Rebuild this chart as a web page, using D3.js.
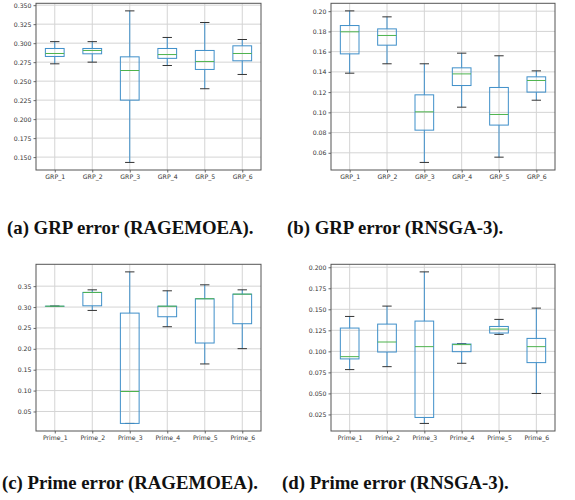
<!DOCTYPE html>
<html><head><meta charset="utf-8">
<script src="https://cdn.jsdelivr.net/npm/d3@7"></script>
<style>body{margin:0;background:#fff}svg{display:block}</style>
</head><body>
<svg id="c" width="575" height="500"></svg>
<script>
// ---- data ----
const grpCats = ["GRP_1","GRP_2","GRP_3","GRP_4","GRP_5","GRP_6"];
const primeCats = ["Prime_1","Prime_2","Prime_3","Prime_4","Prime_5","Prime_6"];

// (a) GRP error (RAGEMOEA)
const aLow  = [0.2728,0.275,0.143,0.2706,0.240,0.2588];
const aQ1   = [0.2825,0.286,0.225,0.280,0.2654,0.2768];
const aMed  = [0.2864,0.2904,0.264,0.285,0.2759,0.2864];
const aQ3   = [0.293,0.293,0.282,0.293,0.2904,0.2965];
const aHigh = [0.302,0.302,0.3425,0.3075,0.3272,0.3048];
const aTicks = [0.150,0.175,0.200,0.225,0.250,0.275,0.300,0.325,0.350];

// (b) GRP error (RNSGA-3)
const bLow  = [0.1387,0.148,0.0505,0.1051,0.0557,0.112];
const bQ1   = [0.1578,0.1664,0.0824,0.1265,0.0874,0.1200];
const bMed  = [0.1796,0.176,0.1005,0.138,0.0979,0.1315];
const bQ3   = [0.1858,0.1825,0.1173,0.144,0.1246,0.1351];
const bHigh = [0.2003,0.1944,0.148,0.1585,0.1559,0.141];
const bTicks = [0.06,0.08,0.10,0.12,0.14,0.16,0.18,0.20];

// (c) Prime error (RAGEMOEA)
const cLow  = [0.302,0.2919,0.0214,0.2529,0.1638,0.2004];
const cQ1   = [0.302,0.303,0.0214,0.2768,0.2139,0.2601];
const cMed  = [0.302,0.335,0.0978,0.302,0.3198,0.3309];
const cQ3   = [0.302,0.335,0.2855,0.302,0.3198,0.3309];
const cHigh = [0.302,0.3412,0.3842,0.3389,0.3532,0.3412];
const cTicks = [0.05,0.10,0.15,0.20,0.25,0.30,0.35];

// (d) Prime error (RNSGA-3)
const dLow  = [0.0783,0.0818,0.0143,0.0858,0.1202,0.0499];
const dQ1   = [0.0910,0.0992,0.0214,0.0996,0.1218,0.0866];
const dMed  = [0.0937,0.1111,0.1056,0.108,0.1265,0.1056];
const dQ3   = [0.1277,0.1324,0.136,0.1087,0.1296,0.1154];
const dHigh = [0.1415,0.1538,0.1945,0.1091,0.138,0.1514];
const dTicks = [0.025,0.050,0.075,0.100,0.125,0.150,0.175,0.200];

const captions = ["(a) GRP error (RAGEMOEA).","(b) GRP error (RNSGA-3).","(c) Prime error (RAGEMOEA).","(d) Prime error (RNSGA-3)."];

// ---- drawing ----
const svg = d3.select("#c");
const panels = [
  {cats:grpCats, low:aLow,q1:aQ1,med:aMed,q3:aQ3,high:aHigh,ticks:aTicks,fmt:".3f", x0:36, x1:261, y0:3.3, y1:170, cap:captions[0], cx:7, cy:234},
  {cats:grpCats, low:bLow,q1:bQ1,med:bMed,q3:bQ3,high:bHigh,ticks:bTicks,fmt:".2f", x0:331, x1:555, y0:3.3, y1:170, cap:captions[1], cx:287, cy:234},
  {cats:primeCats, low:cLow,q1:cQ1,med:cMed,q3:cQ3,high:cHigh,ticks:cTicks,fmt:".2f", x0:36, x1:261, y0:264.3, y1:431, cap:captions[2], cx:2, cy:489},
  {cats:primeCats, low:dLow,q1:dQ1,med:dMed,q3:dQ3,high:dHigh,ticks:dTicks,fmt:".3f", x0:331, x1:555, y0:264.3, y1:431, cap:captions[3], cx:282, cy:489}
];

const boxColor = "#3f8fc9", medColor = "#4db34d", capColor = "#333", gridColor = "#d4d4d4";

panels.forEach(p => {
  const g = svg.append("g");
  const mn = d3.min(p.low), mx = d3.max(p.high), pad = (mx - mn) * 0.05;
  const y = d3.scaleLinear().domain([mn - pad, mx + pad]).range([p.y1, p.y0]);
  const x = d3.scaleLinear().domain([0.5, p.cats.length + 0.5]).range([p.x0, p.x1]);
  const idx = p.cats.map((c,i)=>i);

  // grid
  g.selectAll(".gy").data(p.ticks).join("line")
    .attr("x1", p.x0).attr("x2", p.x1)
    .attr("y1", d=>y(d)).attr("y2", d=>y(d))
    .attr("stroke", gridColor).attr("stroke-width", 1);
  g.selectAll(".gx").data(idx).join("line")
    .attr("x1", i=>x(i+1)).attr("x2", i=>x(i+1))
    .attr("y1", p.y0).attr("y2", p.y1)
    .attr("stroke", gridColor).attr("stroke-width", 1);

  // axes
  const yAxis = d3.axisLeft(y).tickValues(p.ticks).tickFormat(d3.format(p.fmt)).tickSize(2.5).tickPadding(2);
  const ya = g.append("g").attr("transform", `translate(${p.x0},0)`).call(yAxis);
  const xAxis = d3.axisBottom(x).tickValues(idx.map(i=>i+1)).tickFormat(d=>p.cats[d-1]).tickSize(2.5).tickPadding(2);
  const xa = g.append("g").attr("transform", `translate(0,${p.y1})`).call(xAxis);
  [ya, xa].forEach(a => {
    a.select(".domain").remove();
    a.selectAll("line").attr("stroke", "#444").attr("stroke-width", 0.8);
    a.selectAll("text").attr("fill", "#333").style("font-family", "DejaVu Sans").style("font-size", "6.2px");
  });

  // whiskers
  const w = (x(1.25) - x(1)), cw = w / 2;
  g.selectAll(".wl").data(idx).join("line")
    .attr("x1", i=>x(i+1)).attr("x2", i=>x(i+1))
    .attr("y1", i=>y(p.low[i])).attr("y2", i=>y(p.q1[i]))
    .attr("stroke", boxColor).attr("stroke-width", 1);
  g.selectAll(".wh").data(idx).join("line")
    .attr("x1", i=>x(i+1)).attr("x2", i=>x(i+1))
    .attr("y1", i=>y(p.q3[i])).attr("y2", i=>y(p.high[i]))
    .attr("stroke", boxColor).attr("stroke-width", 1);
  // caps
  ["low","high"].forEach(k => {
    g.selectAll(".c"+k).data(idx).join("line")
      .attr("x1", i=>x(i+1)-cw).attr("x2", i=>x(i+1)+cw)
      .attr("y1", i=>y(p[k][i])).attr("y2", i=>y(p[k][i]))
      .attr("stroke", capColor).attr("stroke-width", 1);
  });
  // boxes
  g.selectAll(".bx").data(idx).join("rect")
    .attr("x", i=>x(i+1)-w).attr("width", 2*w)
    .attr("y", i=>y(p.q3[i])).attr("height", i=>Math.max(0.01, y(p.q1[i]) - y(p.q3[i])))
    .attr("fill", "none").attr("stroke", boxColor).attr("stroke-width", 1);
  // medians
  g.selectAll(".md").data(idx).join("line")
    .attr("x1", i=>x(i+1)-w).attr("x2", i=>x(i+1)+w)
    .attr("y1", i=>y(p.med[i])).attr("y2", i=>y(p.med[i]))
    .attr("stroke", medColor).attr("stroke-width", 1);

  // frame
  g.append("rect").attr("x", p.x0).attr("y", p.y0).attr("width", p.x1-p.x0).attr("height", p.y1-p.y0)
    .attr("fill", "none").attr("stroke", "#555").attr("stroke-width", 1);

  // caption
  svg.append("text").attr("x", p.cx).attr("y", p.cy).text(p.cap)
    .style("font-family", "Liberation Serif").style("font-weight", "bold").style("font-size", "18.8px").attr("fill", "#111");
});
</script>
</body></html>
